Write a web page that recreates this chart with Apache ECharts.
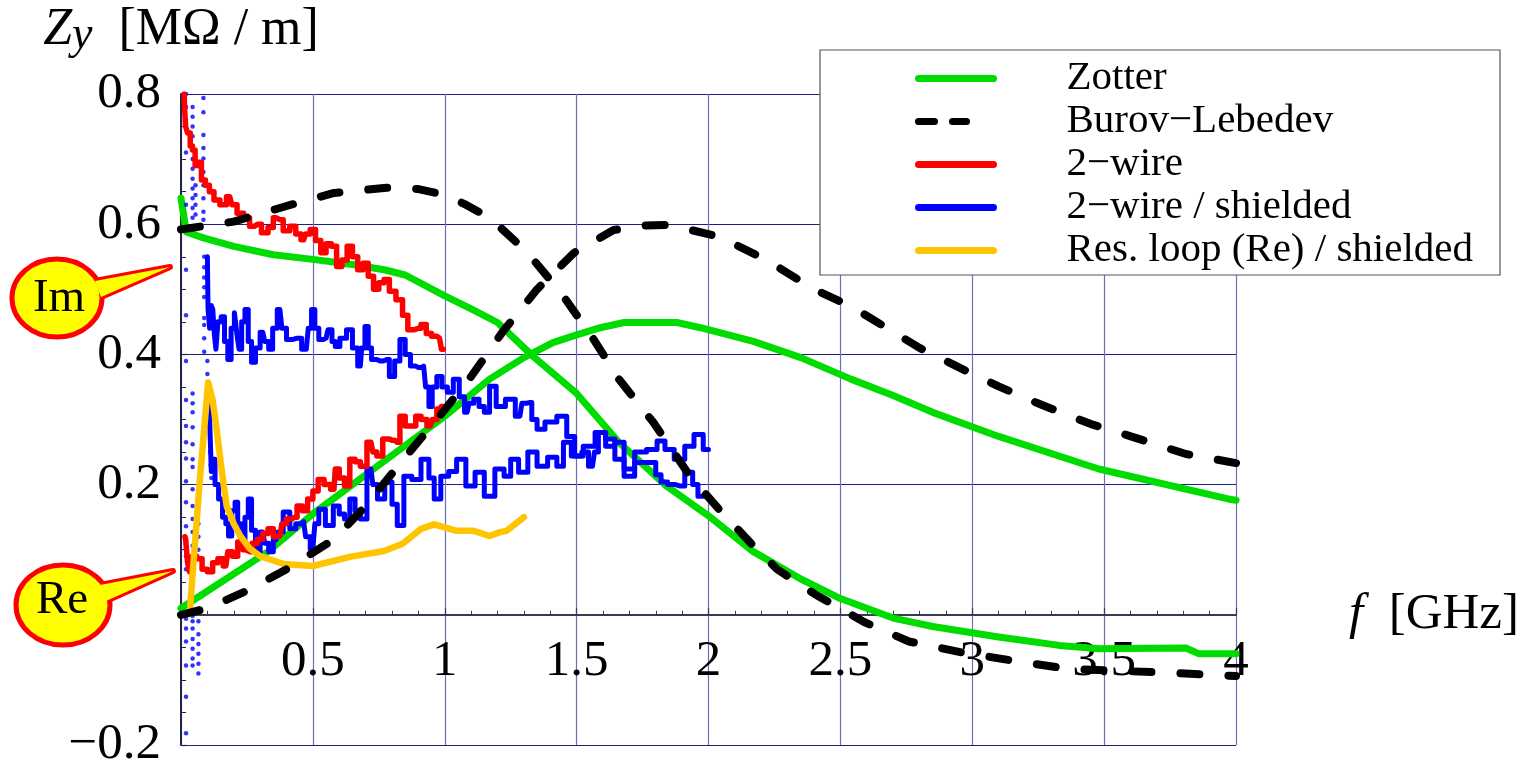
<!DOCTYPE html>
<html><head><meta charset="utf-8">
<script src="https://cdn.jsdelivr.net/npm/echarts@6/dist/echarts.min.js"></script>
<style>html,body{margin:0;padding:0;background:#fff;}#c{width:1537px;height:769px;}</style>
</head><body><div id="c"></div>
<script>
const FONT = '"Liberation Serif", "Times New Roman", serif';

// ---- data: [frequency GHz, Z_y MΩ/m] ----
const zotterIm = [[0,0.64],[0.02,0.588],[0.085,0.579],[0.2,0.566],[0.35,0.553],[0.5,0.546],[0.65,0.538],[0.77,0.53],[0.85,0.522],[1.0,0.49],[1.1,0.47],[1.2,0.449],[1.335,0.397],[1.5,0.34],[1.66,0.265],[1.84,0.198],[2.0,0.152],[2.17,0.097],[2.35,0.055],[2.5,0.025],[2.7,-0.005],[2.85,-0.018],[3.1,-0.034],[3.33,-0.047],[3.48,-0.052],[3.81,-0.051],[3.86,-0.06],[4.0,-0.06]];
const zotterRe = [[0,0.01],[0.33,0.097],[0.5,0.155],[0.83,0.254],[1.0,0.305],[1.17,0.362],[1.3,0.395],[1.41,0.418],[1.5,0.43],[1.59,0.441],[1.68,0.449],[1.88,0.449],[1.97,0.441],[2.17,0.42],[2.35,0.395],[2.54,0.362],[2.7,0.337],[2.85,0.311],[3.1,0.274],[3.48,0.224],[3.97,0.178],[4.0,0.176]];
const burovIm = [[0,0.592],[0.05,0.595],[0.2,0.604],[0.4,0.628],[0.58,0.648],[0.78,0.656],[0.9,0.654],[1.0,0.645],[1.08,0.63],[1.17,0.61],[1.31,0.558],[1.44,0.495],[1.56,0.426],[1.66,0.362],[1.79,0.296],[1.93,0.213],[2.04,0.162],[2.17,0.106],[2.26,0.07],[2.41,0.03],[2.59,-0.011],[2.76,-0.041],[2.95,-0.057],[3.1,-0.067],[3.36,-0.083],[3.74,-0.089],[4.0,-0.094]];
const burovRe = [[0,0.0],[0.1,0.01],[0.25,0.037],[0.4,0.07],[0.58,0.116],[0.7,0.167],[0.86,0.247],[0.97,0.3],[1.1,0.366],[1.22,0.435],[1.35,0.5],[1.49,0.556],[1.64,0.591],[1.75,0.598],[1.85,0.599],[2.04,0.581],[2.22,0.545],[2.4,0.5],[2.54,0.474],[2.8,0.41],[3.0,0.37],[3.1,0.351],[3.26,0.323],[3.45,0.293],[3.61,0.273],[3.81,0.247],[4.0,0.233]];
const twoWireIm = [[0.012,0.8],[0.015,0.78],[0.02,0.75],[0.03,0.74],[0.04,0.72],[0.047,0.714],[0.06,0.69],[0.07,0.695],[0.085,0.668],[0.1,0.66],[0.115,0.65],[0.135,0.637],[0.16,0.63],[0.185,0.642],[0.2,0.63],[0.225,0.617],[0.25,0.61],[0.27,0.597],[0.29,0.6],[0.32,0.587],[0.34,0.595],[0.36,0.61],[0.375,0.607],[0.4,0.59],[0.425,0.597],[0.445,0.585],[0.465,0.576],[0.48,0.585],[0.5,0.592],[0.52,0.575],[0.54,0.556],[0.56,0.57],[0.58,0.566],[0.6,0.535],[0.62,0.545],[0.64,0.566],[0.66,0.55],[0.68,0.53],[0.7,0.54],[0.72,0.52],[0.74,0.5],[0.76,0.51],[0.78,0.515],[0.8,0.497],[0.83,0.484],[0.85,0.46],[0.87,0.438],[0.9,0.44],[0.92,0.446],[0.94,0.432],[0.96,0.428],[0.98,0.425],[0.995,0.408]];
const twoWireRe = [[0.015,0.12],[0.02,0.116],[0.03,0.08],[0.035,0.066],[0.05,0.09],[0.07,0.086],[0.09,0.07],[0.11,0.066],[0.13,0.08],[0.15,0.086],[0.17,0.075],[0.185,0.097],[0.205,0.09],[0.225,0.112],[0.245,0.1],[0.26,0.097],[0.28,0.11],[0.3,0.116],[0.32,0.125],[0.34,0.132],[0.36,0.12],[0.375,0.121],[0.39,0.14],[0.41,0.147],[0.43,0.15],[0.45,0.167],[0.47,0.16],[0.49,0.178],[0.51,0.19],[0.53,0.208],[0.555,0.2],[0.58,0.193],[0.59,0.224],[0.61,0.21],[0.63,0.198],[0.65,0.239],[0.67,0.235],[0.69,0.228],[0.72,0.265],[0.735,0.25],[0.75,0.244],[0.78,0.27],[0.8,0.268],[0.82,0.265],[0.84,0.305],[0.86,0.29],[0.88,0.29],[0.9,0.305],[0.92,0.3],[0.945,0.29],[0.96,0.3],[0.98,0.316],[0.995,0.32]];
const shieldIm = [[0.1,0.55],[0.105,0.47],[0.112,0.44],[0.118,0.475],[0.123,0.469],[0.13,0.43],[0.135,0.408],[0.145,0.45],[0.16,0.458],[0.17,0.42],[0.185,0.392],[0.195,0.44],[0.21,0.464],[0.215,0.43],[0.225,0.408],[0.235,0.45],[0.25,0.469],[0.26,0.42],[0.275,0.388],[0.29,0.41],[0.31,0.434],[0.325,0.42],[0.34,0.408],[0.355,0.44],[0.375,0.469],[0.39,0.44],[0.41,0.423],[0.44,0.425],[0.475,0.408],[0.49,0.44],[0.5,0.469],[0.515,0.44],[0.53,0.423],[0.55,0.425],[0.565,0.438],[0.58,0.42],[0.59,0.412],[0.615,0.425],[0.64,0.438],[0.66,0.41],[0.68,0.382],[0.69,0.41],[0.705,0.443],[0.715,0.41],[0.73,0.392],[0.755,0.39],[0.78,0.392],[0.8,0.366],[0.82,0.39],[0.84,0.423],[0.86,0.4],[0.88,0.382],[0.9,0.38],[0.92,0.382],[0.935,0.35],[0.945,0.32],[0.96,0.35],[0.98,0.366],[1.0,0.35],[1.02,0.342],[1.045,0.362],[1.065,0.335],[1.085,0.311],[1.1,0.325],[1.12,0.331],[1.14,0.32],[1.16,0.311],[1.18,0.351],[1.21,0.32],[1.25,0.331],[1.285,0.305],[1.3,0.325],[1.32,0.326],[1.34,0.3],[1.36,0.285],[1.4,0.296],[1.45,0.305],[1.475,0.274],[1.51,0.244],[1.53,0.25],[1.56,0.228],[1.575,0.25],[1.59,0.28],[1.63,0.27],[1.66,0.239],[1.7,0.213],[1.74,0.234],[1.79,0.234],[1.81,0.215],[1.83,0.204],[1.86,0.2],[1.89,0.198],[1.93,0.219],[1.95,0.2],[1.97,0.182],[2.0,0.182]];
const shieldRe = [[0.105,0.35],[0.112,0.3],[0.118,0.22],[0.123,0.239],[0.135,0.2],[0.15,0.178],[0.165,0.15],[0.175,0.14],[0.185,0.121],[0.2,0.16],[0.21,0.173],[0.22,0.14],[0.235,0.106],[0.25,0.15],[0.26,0.178],[0.275,0.13],[0.29,0.097],[0.31,0.127],[0.325,0.11],[0.34,0.097],[0.36,0.115],[0.375,0.127],[0.4,0.158],[0.425,0.132],[0.445,0.14],[0.465,0.143],[0.48,0.12],[0.5,0.101],[0.515,0.14],[0.53,0.162],[0.565,0.137],[0.59,0.167],[0.61,0.155],[0.63,0.147],[0.65,0.178],[0.67,0.16],[0.69,0.147],[0.72,0.224],[0.735,0.2],[0.755,0.178],[0.79,0.204],[0.81,0.17],[0.83,0.137],[0.86,0.213],[0.89,0.208],[0.93,0.239],[0.95,0.21],[0.97,0.178],[1.0,0.213],[1.03,0.22],[1.06,0.239],[1.1,0.198],[1.13,0.219],[1.17,0.182],[1.21,0.224],[1.24,0.213],[1.26,0.239],[1.3,0.219],[1.33,0.25],[1.37,0.228],[1.41,0.242],[1.44,0.228],[1.46,0.265],[1.5,0.244],[1.55,0.259],[1.59,0.28],[1.63,0.259],[1.66,0.265],[1.7,0.224],[1.74,0.25],[1.79,0.254],[1.82,0.267],[1.85,0.254],[1.89,0.239],[1.93,0.259],[1.96,0.277],[2.0,0.254]];
const shieldLowFreq = [[0.019,0.80],[0.019,0.78],[0.019,0.76],[0.019,0.71],[0.019,0.63],[0.019,0.53],[0.019,0.46],[0.019,0.39],[0.019,0.33],[0.019,0.29],[0.019,0.265],[0.019,0.24],[0.019,0.205],[0.019,0.173],[0.019,0.136],[0.019,0.113],[0.019,0.09],[0.019,0.07],[0.019,-0.006],[0.019,-0.021],[0.019,-0.041],[0.019,-0.078],[0.019,-0.126],[0.019,-0.182],
  [0.044,0.78],[0.044,0.765],[0.044,0.75],[0.044,0.735],[0.044,0.72],[0.044,0.70],[0.044,0.685],[0.044,0.67],[0.044,0.655],[0.044,0.64],[0.044,0.625],[0.044,0.61],[0.044,0.34],[0.044,0.325],[0.044,0.311],[0.044,0.288],[0.044,0.262],[0.044,0.239],[0.044,0.227],[0.044,0.193],[0.044,0.167],[0.044,0.147],[0.044,0.127],[0.044,0.106],[0.044,0.086],[0.044,0.066],[0.044,-0.002],[0.044,-0.01],[0.044,-0.021],[0.044,-0.037],[0.044,-0.052],[0.044,-0.067],[0.044,-0.078],
  [0.055,0.66],[0.055,0.645],[0.055,0.63],[0.055,0.615],[0.066,0.14],[0.066,0.12],[0.066,0.1],[0.066,-0.01],[0.066,-0.03],[0.066,-0.045],[0.066,-0.06],[0.066,-0.075],[0.066,-0.09],
  [0.085,0.794],[0.085,0.772],[0.085,0.737],[0.085,0.717],[0.085,0.701],[0.085,0.68],[0.085,0.66],[0.085,0.64],[0.085,0.619],[0.085,0.607],[0.088,0.55],[0.088,0.534],[0.088,0.518],[0.088,0.503],[0.088,0.488],[0.088,0.456],[0.088,0.445],[0.088,0.425],[0.088,0.404],
  [0.1,0.39],[0.1,0.37],[0.1,0.35],[0.1,0.33],[0.105,0.31],[0.105,0.29],[0.11,0.27],[0.11,0.25],[0.112,0.23],[0.115,0.21]];
const resLoopRe = [[0.035,0.014],[0.07,0.2],[0.103,0.357],[0.12,0.33],[0.135,0.285],[0.155,0.22],[0.173,0.167],[0.2,0.14],[0.225,0.121],[0.26,0.102],[0.3,0.09],[0.39,0.078],[0.5,0.075],[0.64,0.089],[0.77,0.098],[0.84,0.109],[0.91,0.132],[0.96,0.139],[1.045,0.129],[1.11,0.129],[1.17,0.121],[1.21,0.127],[1.235,0.129],[1.3,0.15]];

const legendNames = ['Zotter', 'Burov\u2212Lebedev', '2\u2212wire', '2\u2212wire / shielded', 'Res. loop (Re) / shielded'];
const xMin = 0, xMax = 4, xTickStep = 0.5;
const yMin = -0.2, yMax = 0.8, yTickStep = 0.2;

const GREEN = '#00dc00', BLACK = '#000000', RED = '#ff0000', BLUE = '#0000ff', GOLD = '#ffc400';

function lineSeries(name, data, color, width, z, dash, step) {
  return {
    name, type: 'line', data, symbol: 'none', z, silent: true, animation: false,
    xAxisIndex: 0, yAxisIndex: 0, step: step || false,
    lineStyle: { color, width, type: dash || 'solid', cap: 'round', join: 'round' },
    itemStyle: { color }
  };
}

const GRID = { left: 181, top: 94, width: 1055, height: 651 };
// pixel offset from the grid bottom up to y = 0, so the tick labels sit under the zero line
const zeroOffset = -GRID.height * (0 - yMin) / (yMax - yMin);

const chart = echarts.init(document.getElementById('c'), null, { renderer: 'canvas' });
const dashB = [19, 29];
chart.setOption({
  animation: false,
  backgroundColor: '#ffffff',
  textStyle: { fontFamily: FONT },
  grid: Object.assign({ containLabel: false, outerBoundsMode: 'none' }, GRID),
  legend: {
    data: [
      { name: legendNames[0] },
      { name: legendNames[1], lineStyle: { type: [16, 18, 14, 100] } },
      { name: legendNames[2] },
      { name: legendNames[3] },
      { name: legendNames[4] }
    ],
    orient: 'vertical', left: 820, top: 50, align: 'left',
    padding: [7, 27, 3, 95],
    itemWidth: 75, itemHeight: 14, itemGap: 0,
    backgroundColor: '#ffffff', borderColor: '#555555', borderWidth: 1.2,
    selectedMode: false,
    itemStyle: { opacity: 0 },
    lineStyle: { width: 7, cap: 'round' },
    textStyle: { fontFamily: FONT, fontSize: 41, lineHeight: 43, color: '#000', padding: [0, 0, 0, 68] },
    z: 20
  },
  xAxis: [{
    type: 'value', min: xMin, max: xMax, interval: xTickStep,
    name: '{i|f}  [GHz]', nameLocation: 'end', nameGap: 113,
    nameTextStyle: { fontFamily: FONT, fontSize: 51, color: '#000', verticalAlign: 'middle',
      rich: { i: { fontFamily: FONT, fontSize: 51, fontStyle: 'italic', color: '#000' } } },
    axisLine: { show: true, onZero: true, lineStyle: { color: '#3a3a50', width: 2.2 } },
    axisTick: { show: true, inside: true, length: 7, lineStyle: { color: '#3a3a50', width: 1.2 } },
    minorTick: { show: true, splitNumber: 5, length: 4, lineStyle: { color: '#3a3a50', width: 1 } },
    axisLabel: { show: false },
    splitLine: { show: true, lineStyle: { color: '#6e6eb6', width: 1.2 } }
  }, {
    // label-only axis placed on the zero line
    type: 'value', min: xMin, max: xMax, interval: xTickStep, position: 'bottom', offset: zeroOffset,
    axisLine: { show: false, onZero: false }, axisTick: { show: false }, splitLine: { show: false },
    axisLabel: { fontFamily: FONT, fontSize: 51, color: '#000', margin: 21,
      formatter: v => (Math.abs(v) < 1e-9 ? '' : String(+v.toFixed(2))) }
  }],
  yAxis: {
    type: 'value', min: yMin, max: yMax, interval: yTickStep,
    name: '{z|Z}{s|y}{n|  [M\u03a9 / m]}', nameLocation: 'end', nameGap: 35,
    nameTextStyle: { fontFamily: FONT, fontSize: 52, color: '#000',
      rich: {
        z: { fontFamily: FONT, fontSize: 52, fontStyle: 'italic', color: '#000' },
        s: { fontFamily: FONT, fontSize: 46, fontStyle: 'italic', color: '#000', padding: [12, 0, 0, 0] },
        n: { fontFamily: FONT, fontSize: 52, color: '#000' }
      } },
    axisLine: { show: true, onZero: false, lineStyle: { color: '#22224a', width: 2 } },
    axisTick: { show: true, inside: true, length: 6, lineStyle: { color: '#22224a', width: 1.2 } },
    minorTick: { show: true, splitNumber: 4, length: 5, lineStyle: { color: '#22224a', width: 1 } },
    axisLabel: { fontFamily: FONT, fontSize: 51, color: '#000', margin: 20,
      formatter: v => {
        const r = Math.round(v * 10) / 10;
        if (Math.abs(r) < 1e-9) return '';
        return r < 0 ? '\u2212' + Math.abs(r).toFixed(1) : r.toFixed(1);
      } },
    splitLine: { show: true, lineStyle: { color: '#1e1e86', width: 1.1 } }
  },
  series: [
    lineSeries(legendNames[0], zotterIm, GREEN, 7, 2),
    lineSeries(legendNames[0], zotterRe, GREEN, 7, 2),
    lineSeries(legendNames[1], burovIm, BLACK, 8, 6, dashB),
    lineSeries(legendNames[1], burovRe, BLACK, 8, 6, dashB),
    lineSeries(legendNames[2], twoWireIm, RED, 5.5, 4, null, 'middle'),
    lineSeries(legendNames[2], twoWireRe, RED, 5.5, 4, null, 'middle'),
    lineSeries(legendNames[3], shieldIm, BLUE, 5, 3, null, 'middle'),
    lineSeries(legendNames[3], shieldRe, BLUE, 5, 3, null, 'middle'),
    { name: 'shielded LF', type: 'scatter', data: shieldLowFreq, symbol: 'circle', symbolSize: 4.5,
      xAxisIndex: 0, yAxisIndex: 0,
      itemStyle: { color: BLUE }, z: 3, silent: true, animation: false },
    lineSeries(legendNames[4], resLoopRe, GOLD, 6.5, 5)
  ],
  graphic: [
    // "Im" callout
    { type: 'polygon', z: 100, shape: { points: [[95, 281], [170, 267], [101, 297]] },
      style: { fill: '#ffff00', stroke: '#ff0000', lineWidth: 6, lineJoin: 'round' } },
    { type: 'ellipse', z: 101, shape: { cx: 57, cy: 298, rx: 45, ry: 39 },
      style: { fill: '#ffff00', stroke: '#ff0000', lineWidth: 5 } },
    { type: 'polygon', z: 102, shape: { points: [[95, 281], [170, 267], [101, 297]] },
      style: { fill: '#ffff00' } },
    { type: 'text', z: 103, style: { text: 'Im', x: 59, y: 299, align: 'center', verticalAlign: 'middle',
      fontFamily: FONT, fontSize: 47, fill: '#000' } },
    // "Re" callout
    { type: 'polygon', z: 100, shape: { points: [[100, 585], [173, 571], [106, 601]] },
      style: { fill: '#ffff00', stroke: '#ff0000', lineWidth: 6, lineJoin: 'round' } },
    { type: 'ellipse', z: 101, shape: { cx: 63, cy: 605, rx: 47, ry: 40 },
      style: { fill: '#ffff00', stroke: '#ff0000', lineWidth: 5 } },
    { type: 'polygon', z: 102, shape: { points: [[100, 585], [173, 571], [106, 601]] },
      style: { fill: '#ffff00' } },
    { type: 'text', z: 103, style: { text: 'Re', x: 62, y: 601, align: 'center', verticalAlign: 'middle',
      fontFamily: FONT, fontSize: 47, fill: '#000' } }
  ]
});
</script></body></html>
